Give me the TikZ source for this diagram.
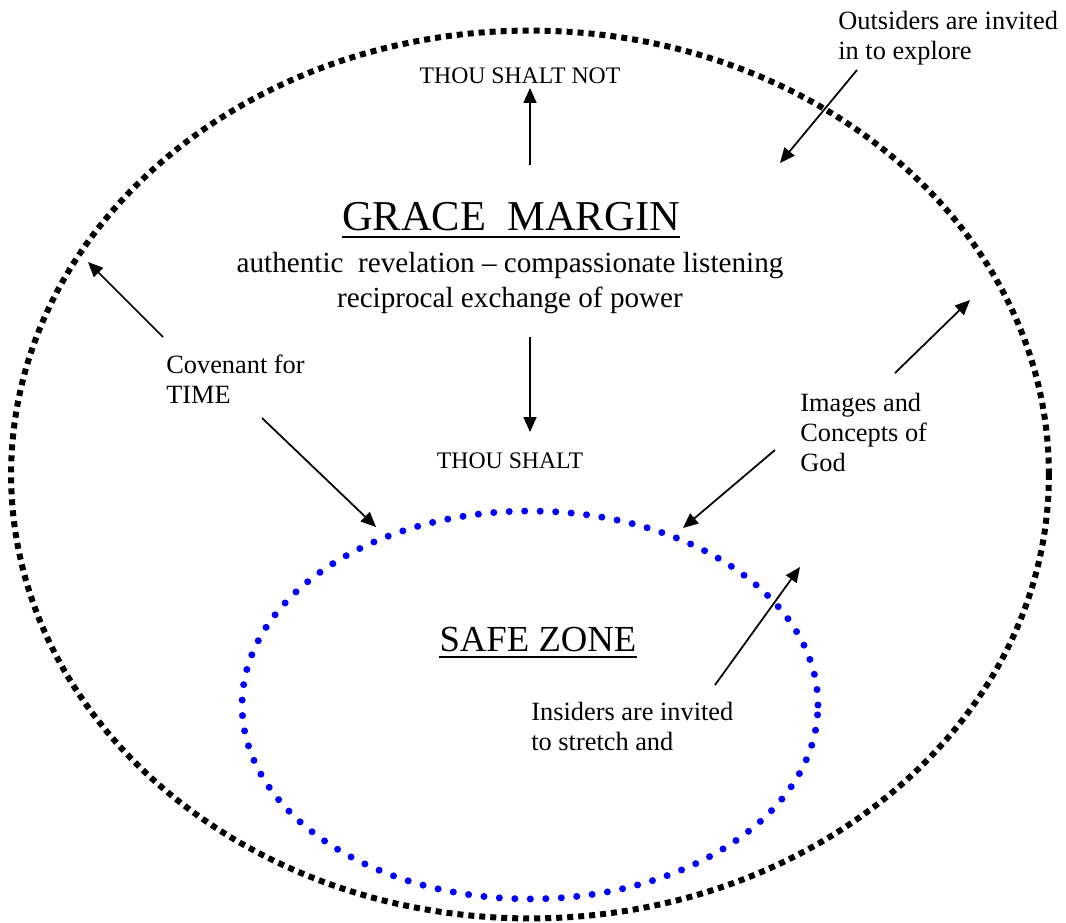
\documentclass[tikz,border=0pt]{standalone}
\usepackage{fontspec}
\setmainfont{Liberation Serif}
\definecolor{zoneblue}{RGB}{0,0,255}
\usetikzlibrary{shapes,arrows.meta,positioning}
\tikzset{
  pointer/.style={line width=1pt, -{Triangle[length=0.3cm,width=0.26cm]}},
  note/.style={align=left, inner sep=0pt, anchor=north west, font=\fontsize{15}{17}\selectfont},
  command/.style={inner sep=0pt, anchor=base, font=\fontsize{13.5}{16}\selectfont},
}

\begin{document}
\begin{tikzpicture}[x=0.02cm, y=-0.02cm]
\useasboundingbox (0,0) rectangle (1066,923);
% the two zones
\node[ellipse, draw, line width=0.12cm, dash pattern=on 0.12cm off 0.10cm, minimum width=20.76cm, minimum height=17.76cm, inner sep=0pt] (margin) at (530,474.5) {};
\node[ellipse, draw=zoneblue, line width=0.14cm, line cap=round, dash pattern=on 0pt off 0.31cm, minimum width=11.52cm, minimum height=7.76cm, inner sep=0pt] (zone) at (530,705) {};

% titles
\node[inner sep=0pt, anchor=base, font=\fontsize{24.2}{29}\selectfont] (gracetitle) at (511,230) {GRACE\ \ MARGIN};
\draw[line width=1.2pt] ([yshift=-4pt]gracetitle.base west) -- ([yshift=-4pt]gracetitle.base east);
\node[inner sep=0pt, anchor=north, align=center, font=\fontsize{16.6}{20}\selectfont] (ethos) at (510,252) {authentic\ \ revelation – compassionate listening\\reciprocal exchange of power};
\node[inner sep=0pt, anchor=base, font=\fontsize{20.9}{25}\selectfont] (zonetitle) at (538,651) {SAFE ZONE};
\draw[line width=0.9pt] ([yshift=-3.4pt]zonetitle.base west) -- ([yshift=-3.4pt]zonetitle.base east);

\node[command] (shaltnot) at (520,83) {THOU SHALT NOT};
\node[command] (shalt) at (510,468) {THOU SHALT};

% side notes
\node[note] (outsiders) at (838,11) {Outsiders are invited\\in to explore};
\node[note] (covenant) at (166,355) {Covenant for\\TIME};
\node[note] (images) at (800,393) {Images and\\Concepts of\\God};
\node[note] (insiders) at (531,702) {Insiders are invited\\to stretch and};

% arrow ends
\coordinate (upA) at (530,165);    \coordinate (upB) at (530,88);
\coordinate (downA) at (530,337);  \coordinate (downB) at (530,432);
\coordinate (covA) at (163,337);   \coordinate (covB) at (88,262);
\coordinate (covC) at (262,418);   \coordinate (covD) at (376,527);
\coordinate (outA) at (857,70);    \coordinate (outB) at (780,163);
\coordinate (imgA) at (895,373);   \coordinate (imgB) at (970,300);
\coordinate (imgC) at (775,450);   \coordinate (imgD) at (683,528);
\coordinate (insA) at (715,685);   \coordinate (insB) at (800,567);

\draw[pointer] (upA) -- (upB);
\draw[pointer] (downA) -- (downB);
\draw[pointer] (covA) -- (covB);
\draw[pointer] (covC) -- (covD);
\draw[pointer] (outA) -- (outB);
\draw[pointer] (imgA) -- (imgB);
\draw[pointer] (imgC) -- (imgD);
\draw[pointer] (insA) -- (insB);
\end{tikzpicture}
\end{document}
